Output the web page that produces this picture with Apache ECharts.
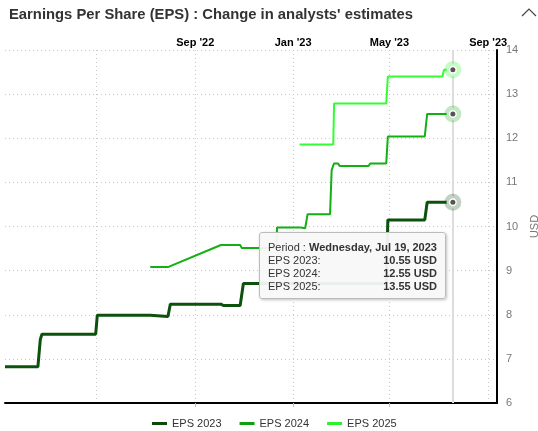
<!DOCTYPE html>
<html>
<head>
<meta charset="utf-8">
<script src="https://cdn.jsdelivr.net/npm/echarts@6/dist/echarts.min.js"></script>
<style>
  html, body { margin: 0; padding: 0; background: #fff; }
  #chart { width: 538px; height: 431px; }
</style>
</head>
<body>
<div id="chart"></div>
<script>
  // estimates, one row per change point
  const eps2023Dates = ['2022-01-07', '2022-02-17', '2022-02-20', '2022-02-22', '2022-04-30', '2022-05-02', '2022-07-07', '2022-07-09', '2022-07-29', '2022-08-01', '2022-10-03', '2022-10-06', '2022-10-27', '2022-10-31', '2023-04-27', '2023-04-29', '2023-06-14', '2023-06-17', '2023-07-19']
  const eps2023Values = [6.82, 6.82, 7.44, 7.56, 7.56, 7.99, 7.99, 7.96, 7.96, 8.24, 8.24, 8.21, 8.21, 8.71, 8.71, 10.15, 10.15, 10.55, 10.55]

  const eps2024Dates = ['2022-07-07', '2022-07-29', '2022-10-03', '2022-10-27', '2022-10-29', '2022-12-11', '2022-12-12', '2023-01-09', '2023-01-11', '2023-01-16', '2023-01-19', '2023-02-16', '2023-02-18', '2023-02-21', '2023-02-26', '2023-02-28', '2023-04-05', '2023-04-07', '2023-04-27', '2023-04-29', '2023-06-14', '2023-06-17', '2023-07-19']
  const eps2024Values = [9.08, 9.08, 9.58, 9.58, 9.51, 9.51, 9.98, 9.98, 9.96, 9.96, 10.28, 10.28, 11.28, 11.43, 11.43, 11.37, 11.37, 11.43, 11.43, 12.04, 12.04, 12.55, 12.55]

  const eps2025Dates = ['2023-01-09', '2023-02-20', '2023-02-21', '2023-04-27', '2023-04-29', '2023-07-06', '2023-07-08', '2023-07-19']
  const eps2025Values = [11.86, 11.86, 12.79, 12.79, 13.40, 13.40, 13.55, 13.55]

  const gridDates = ['2022-05-01', '2022-09-01', '2023-01-01', '2023-05-01', '2023-09-01']
  const tickDates = ['2022-09-01', '2023-01-01', '2023-05-01', '2023-09-01']
  const tickLabels = ["Sep '22", "Jan '23", "May '23", "Sep '23"]
  const xStart = '2022-01-07'
  const xEnd = '2023-09-12'

  const FONT = '"Liberation Sans", Arial, sans-serif'
  const days = ['Sunday', 'Monday', 'Tuesday', 'Wednesday', 'Thursday', 'Friday', 'Saturday']
  const months = ['Jan', 'Feb', 'Mar', 'Apr', 'May', 'Jun', 'Jul', 'Aug', 'Sep', 'Oct', 'Nov', 'Dec']

  // 'YYYY-MM-DD' -> local timestamp
  const parse = s => {
    const p = s.split('-').map(Number)
    return new Date(p[0], p[1] - 1, p[2]).getTime()
  }

  function lineSeries(name, dates, values, color, halo, width) {
    const last = dates.length - 1
    const end = [parse(dates[last]), values[last]]
    return {
      name,
      type: 'line',
      data: dates.map((d, i) => [parse(d), values[i]]),
      symbol: 'none',
      color,
      lineStyle: { color, width },
      emphasis: { scale: false, lineStyle: { width } },
      markPoint: {
        silent: true,
        symbol: 'circle',
        label: { show: false },
        data: [
          { coord: end, symbolSize: 12.5, itemStyle: { color: '#fff', borderColor: halo, borderWidth: 4.5 } },
          { coord: end, symbolSize: 5, itemStyle: { color: '#555', borderWidth: 0 } }
        ]
      }
    }
  }

  function fmtPeriod(t) {
    const d = new Date(t)
    return days[d.getDay()] + ', ' + months[d.getMonth()] + ' ' + d.getDate() + ', ' + d.getFullYear()
  }

  const chart = echarts.init(document.getElementById('chart'))
  chart.setOption({
    animation: false,
    textStyle: { fontFamily: FONT },
    title: {
      text: "Earnings Per Share (EPS) : Change in analysts' estimates",
      left: 4,
      top: 2,
      textStyle: { fontSize: 14.8, fontWeight: 'bold', color: '#333', fontFamily: FONT }
    },
    graphic: [{
      type: 'polyline',
      shape: { points: [[522, 16], [529, 9], [536, 16]] },
      style: { stroke: '#444', lineWidth: 1.2, fill: null }
    }],
    grid: { left: 5, right: 41, top: 50, bottom: 28, outerBoundsMode: 'none' },
    legend: {
      left: 152,
      bottom: 2,
      padding: 0,
      icon: 'rect',
      itemWidth: 15,
      itemHeight: 3,
      itemGap: 18,
      textStyle: { fontSize: 11, color: '#333', fontFamily: FONT },
      data: ['EPS 2023', 'EPS 2024', 'EPS 2025']
    },
    tooltip: {
      trigger: 'axis',
      triggerOn: 'none',
      alwaysShowContent: true,
      transitionDuration: 0,
      position: [259, 232],
      backgroundColor: 'rgba(248,248,248,0.95)',
      borderColor: '#bbb',
      borderWidth: 1,
      borderRadius: 3,
      padding: [8, 8, 5, 8],
      extraCssText: 'box-shadow: 1px 1px 3px rgba(0,0,0,0.25);',
      textStyle: { fontSize: 11, color: '#333', fontFamily: FONT },
      axisPointer: { type: 'line', z: 1, lineStyle: { color: '#ddd', width: 2, type: 'solid' } },
      formatter(params) {
        let html = '<div style="line-height:13px">Period : <b>' + fmtPeriod(params[0].value[0]) + '</b></div>'
        html += '<table style="border-collapse:collapse;width:100%;font-size:11px;line-height:13px;color:#333">'
        params.forEach(p => {
          html += '<tr><td style="padding:0">' + p.seriesName + ':</td>' +
            '<td style="padding:0;text-align:right;font-weight:bold">' + p.value[1].toFixed(2) + ' USD</td></tr>'
        })
        return html + '</table>'
      }
    },
    xAxis: [
      {
        type: 'value',
        position: 'top',
        min: parse(xStart),
        max: parse(xEnd),
        axisLine: { show: false },
        axisTick: { show: false, customValues: gridDates.map(parse) },
        axisLabel: {
          customValues: tickDates.map(parse),
          margin: 2,
          fontSize: 11,
          fontWeight: 'bold',
          color: '#000',
          formatter(v) {
            const i = tickDates.findIndex(d => parse(d) === v)
            return i >= 0 ? tickLabels[i] : ''
          }
        },
        axisPointer: { z: 1 },
        splitLine: { show: true, lineStyle: { color: '#c8c8c8', type: [1, 3] } }
      },
      {
        type: 'value',
        position: 'bottom',
        min: parse(xStart),
        max: parse(xEnd),
        axisLine: { show: true, lineStyle: { color: '#000', width: 2 } },
        axisTick: { show: true, length: 4, lineStyle: { color: '#bbb' }, customValues: tickDates.slice(0, 3).map(parse) },
        axisLabel: { show: false },
        splitLine: { show: false },
        axisPointer: { show: false }
      }
    ],
    yAxis: {
      type: 'value',
      position: 'right',
      min: 6,
      max: 14,
      interval: 1,
      name: 'USD',
      nameLocation: 'middle',
      nameRotate: 90,
      nameGap: 29,
      nameTextStyle: { color: '#777', fontSize: 11, fontFamily: FONT },
      axisLine: { show: true, lineStyle: { color: '#000', width: 2 } },
      axisTick: { show: false },
      axisLabel: { color: '#777', fontSize: 11, margin: 9 },
      splitLine: { lineStyle: { color: '#c8c8c8', type: [1, 3] } }
    },
    series: [
      lineSeries('EPS 2023', eps2023Dates, eps2023Values, '#0b4a0b', 'rgba(11,74,11,0.25)', 3),
      lineSeries('EPS 2024', eps2024Dates, eps2024Values, '#12a012', 'rgba(18,160,18,0.25)', 2),
      lineSeries('EPS 2025', eps2025Dates, eps2025Values, '#2def2d', 'rgba(45,239,45,0.28)', 2)
    ]
  })

  chart.dispatchAction({ type: 'showTip', seriesIndex: 0, dataIndex: eps2023Dates.length - 1 })
</script>
</body>
</html>
